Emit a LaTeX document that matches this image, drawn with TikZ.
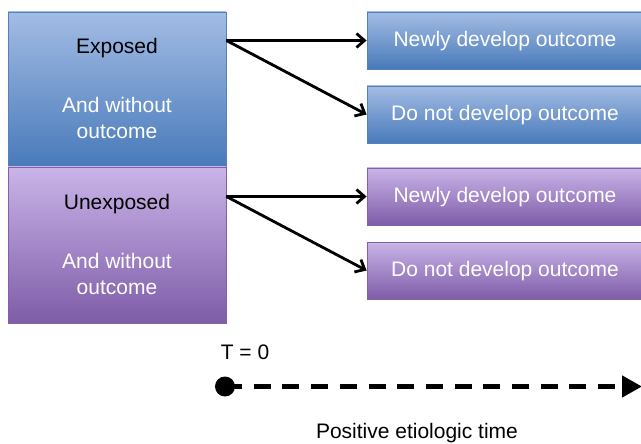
\documentclass[tikz,border=0pt]{standalone}
\usepackage{fontspec}
\setmainfont{Liberation Sans}
\usetikzlibrary{arrows.meta}

\definecolor{blueTop}{RGB}{163,188,228}
\definecolor{blueMid}{RGB}{124,157,210}
\definecolor{blueBot}{RGB}{72,122,186}
\definecolor{blueEdge}{RGB}{84,128,190}
\definecolor{purpTop}{RGB}{202,180,232}
\definecolor{purpMid}{RGB}{170,140,210}
\definecolor{purpBot}{RGB}{126,92,168}
\definecolor{purpEdge}{RGB}{128,98,166}

\begin{document}
\begin{tikzpicture}[x=1pt,y=-1pt,
  lbl/.style={font=\fontsize{21}{26}\selectfont, align=center, inner sep=0pt},
  blueshade/.style={top color=blueTop, middle color=blueMid, bottom color=blueBot, draw=blueEdge, line width=0.8pt},
  purpshade/.style={top color=purpTop, middle color=purpMid, bottom color=purpBot, draw=purpEdge, line width=0.8pt},
  groupbox/.style={rectangle, minimum width=218pt, inner sep=0pt},
  outbox/.style={rectangle, minimum width=276pt, minimum height=57pt, inner sep=0pt,
    text depth=3pt, font=\fontsize{21}{26}\selectfont, text=white},
  link/.style={line width=2.8pt, -{Straight Barb[length=8pt,width=14pt,line width=2.8pt]}},
]
\useasboundingbox (0,0) rectangle (641,444);

% cohort boxes on the left
\node[groupbox, blueshade, minimum height=155pt] (exposed) at (117,89.5) {};
\node[groupbox, purpshade, minimum height=156pt] (unexposed) at (117,245) {};

\node[lbl, text=black] (exposedlbl) at (117,48) {Exposed};
\node[lbl, text=white] (exposedsub) at (117,118) {And without\\outcome};
\node[lbl, text=black] (unexposedlbl) at (117,204) {Unexposed};
\node[lbl, text=white] (unexposedsub) at (117,274) {And without\\outcome};

% outcome boxes on the right
\node[outbox, blueshade] (newA) at (505,40.5) {Newly develop outcome};
\node[outbox, blueshade] (notA) at (505,114.5) {Do not develop outcome};
\node[outbox, purpshade] (newB) at (505,196.5) {Newly develop outcome};
\node[outbox, purpshade] (notB) at (505,270.5) {Do not develop outcome};

% branching arrows
\coordinate (srcA) at (exposed.east |- newA.west);
\coordinate (srcB) at (unexposed.east |- newB.west);
\draw[link] (srcA) -- (newA.west);
\draw[link] (srcA) -- (notA.west);
\draw[link] (srcB) -- (newB.west);
\draw[link] (srcB) -- (notB.west);

% time axis
\node[lbl] (tzero) at (245,352) {T = 0};
\node[circle, fill=black, minimum size=20pt, inner sep=0pt] (origin) at (225,386.5) {};
\coordinate (tend) at (642,386.5);
\draw[line width=4.5pt, dash pattern=on 17pt off 11.7pt,
  -{Triangle[length=20pt,width=21pt]}] (origin.center) -- (tend);
\node[lbl] (timelbl) at (417,433) {Positive etiologic time};
\end{tikzpicture}
\end{document}
